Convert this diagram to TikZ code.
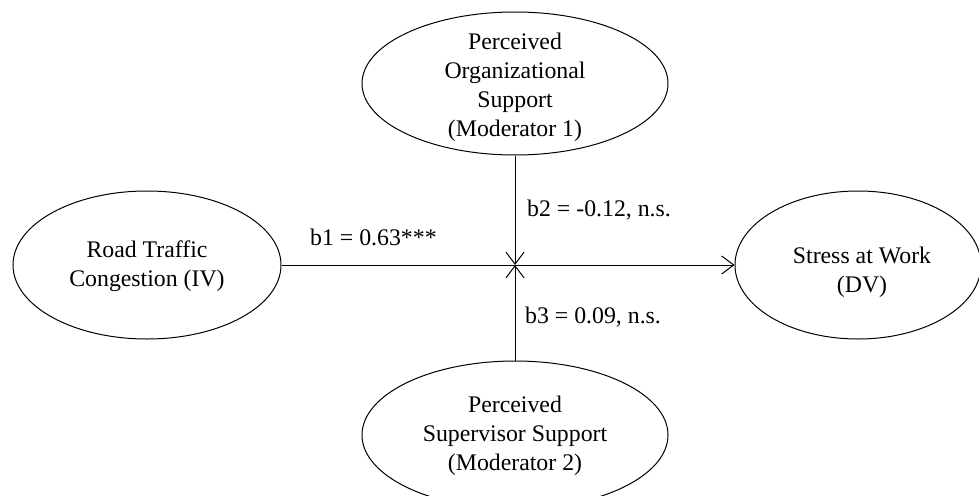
\documentclass[tikz,border=0pt]{standalone}
\usepackage{fontspec}
\setmainfont{Liberation Serif}
\usetikzlibrary{shapes.geometric,arrows.meta}
\begin{document}
\begin{tikzpicture}[x=1pt,y=-1pt,
  ell/.style={draw, ellipse, line width=1pt, inner sep=0pt},
  txt/.style={align=center, font=\fontsize{23.8}{29}\selectfont, inner sep=0pt},
  lbl/.style={anchor=west, font=\fontsize{23.8}{29}\selectfont, inner sep=0pt},
  conn/.style={line width=1pt, -{Straight Barb[length=12pt,width=18pt]}}]
\useasboundingbox (0,0) rectangle (979,495);
\clip (0,0) rectangle (979,495);
% ellipses
\node[ell, minimum width=268pt, minimum height=148pt] (iv) at (147,265) {};
\node[ell, minimum width=306pt, minimum height=143pt] (pos) at (515,83.5) {};
\node[ell, minimum width=246pt, minimum height=148pt] (dv) at (858,265) {};
\node[ell, minimum width=306pt, minimum height=148pt] (pss) at (515,435) {};
% texts
\node[txt] (ivt) at (147,266) {Road Traffic\\Congestion (IV)};
\node[txt] (post) at (515,87) {Perceived\\Organizational\\Support\\(Moderator 1)};
\node[txt] (dvt) at (862,272) {Stress at Work\\(DV)};
\node[txt] (psst) at (515,436) {Perceived\\Supervisor Support\\(Moderator 2)};
% junction
\coordinate (j) at (515,265);
% connectors
\draw[conn] (iv.east) -- (dv.west);
\draw[conn] (pos.south) -- (j);
\draw[conn] (pss.north) -- (j);
% labels
\node[lbl] (b1) at (310,237) {b1 = 0.63***};
\node[lbl] (b2) at (527,210) {b2 = -0.12, n.s.};
\node[lbl] (b3) at (525,317) {b3 = 0.09, n.s.};
\end{tikzpicture}
\end{document}
